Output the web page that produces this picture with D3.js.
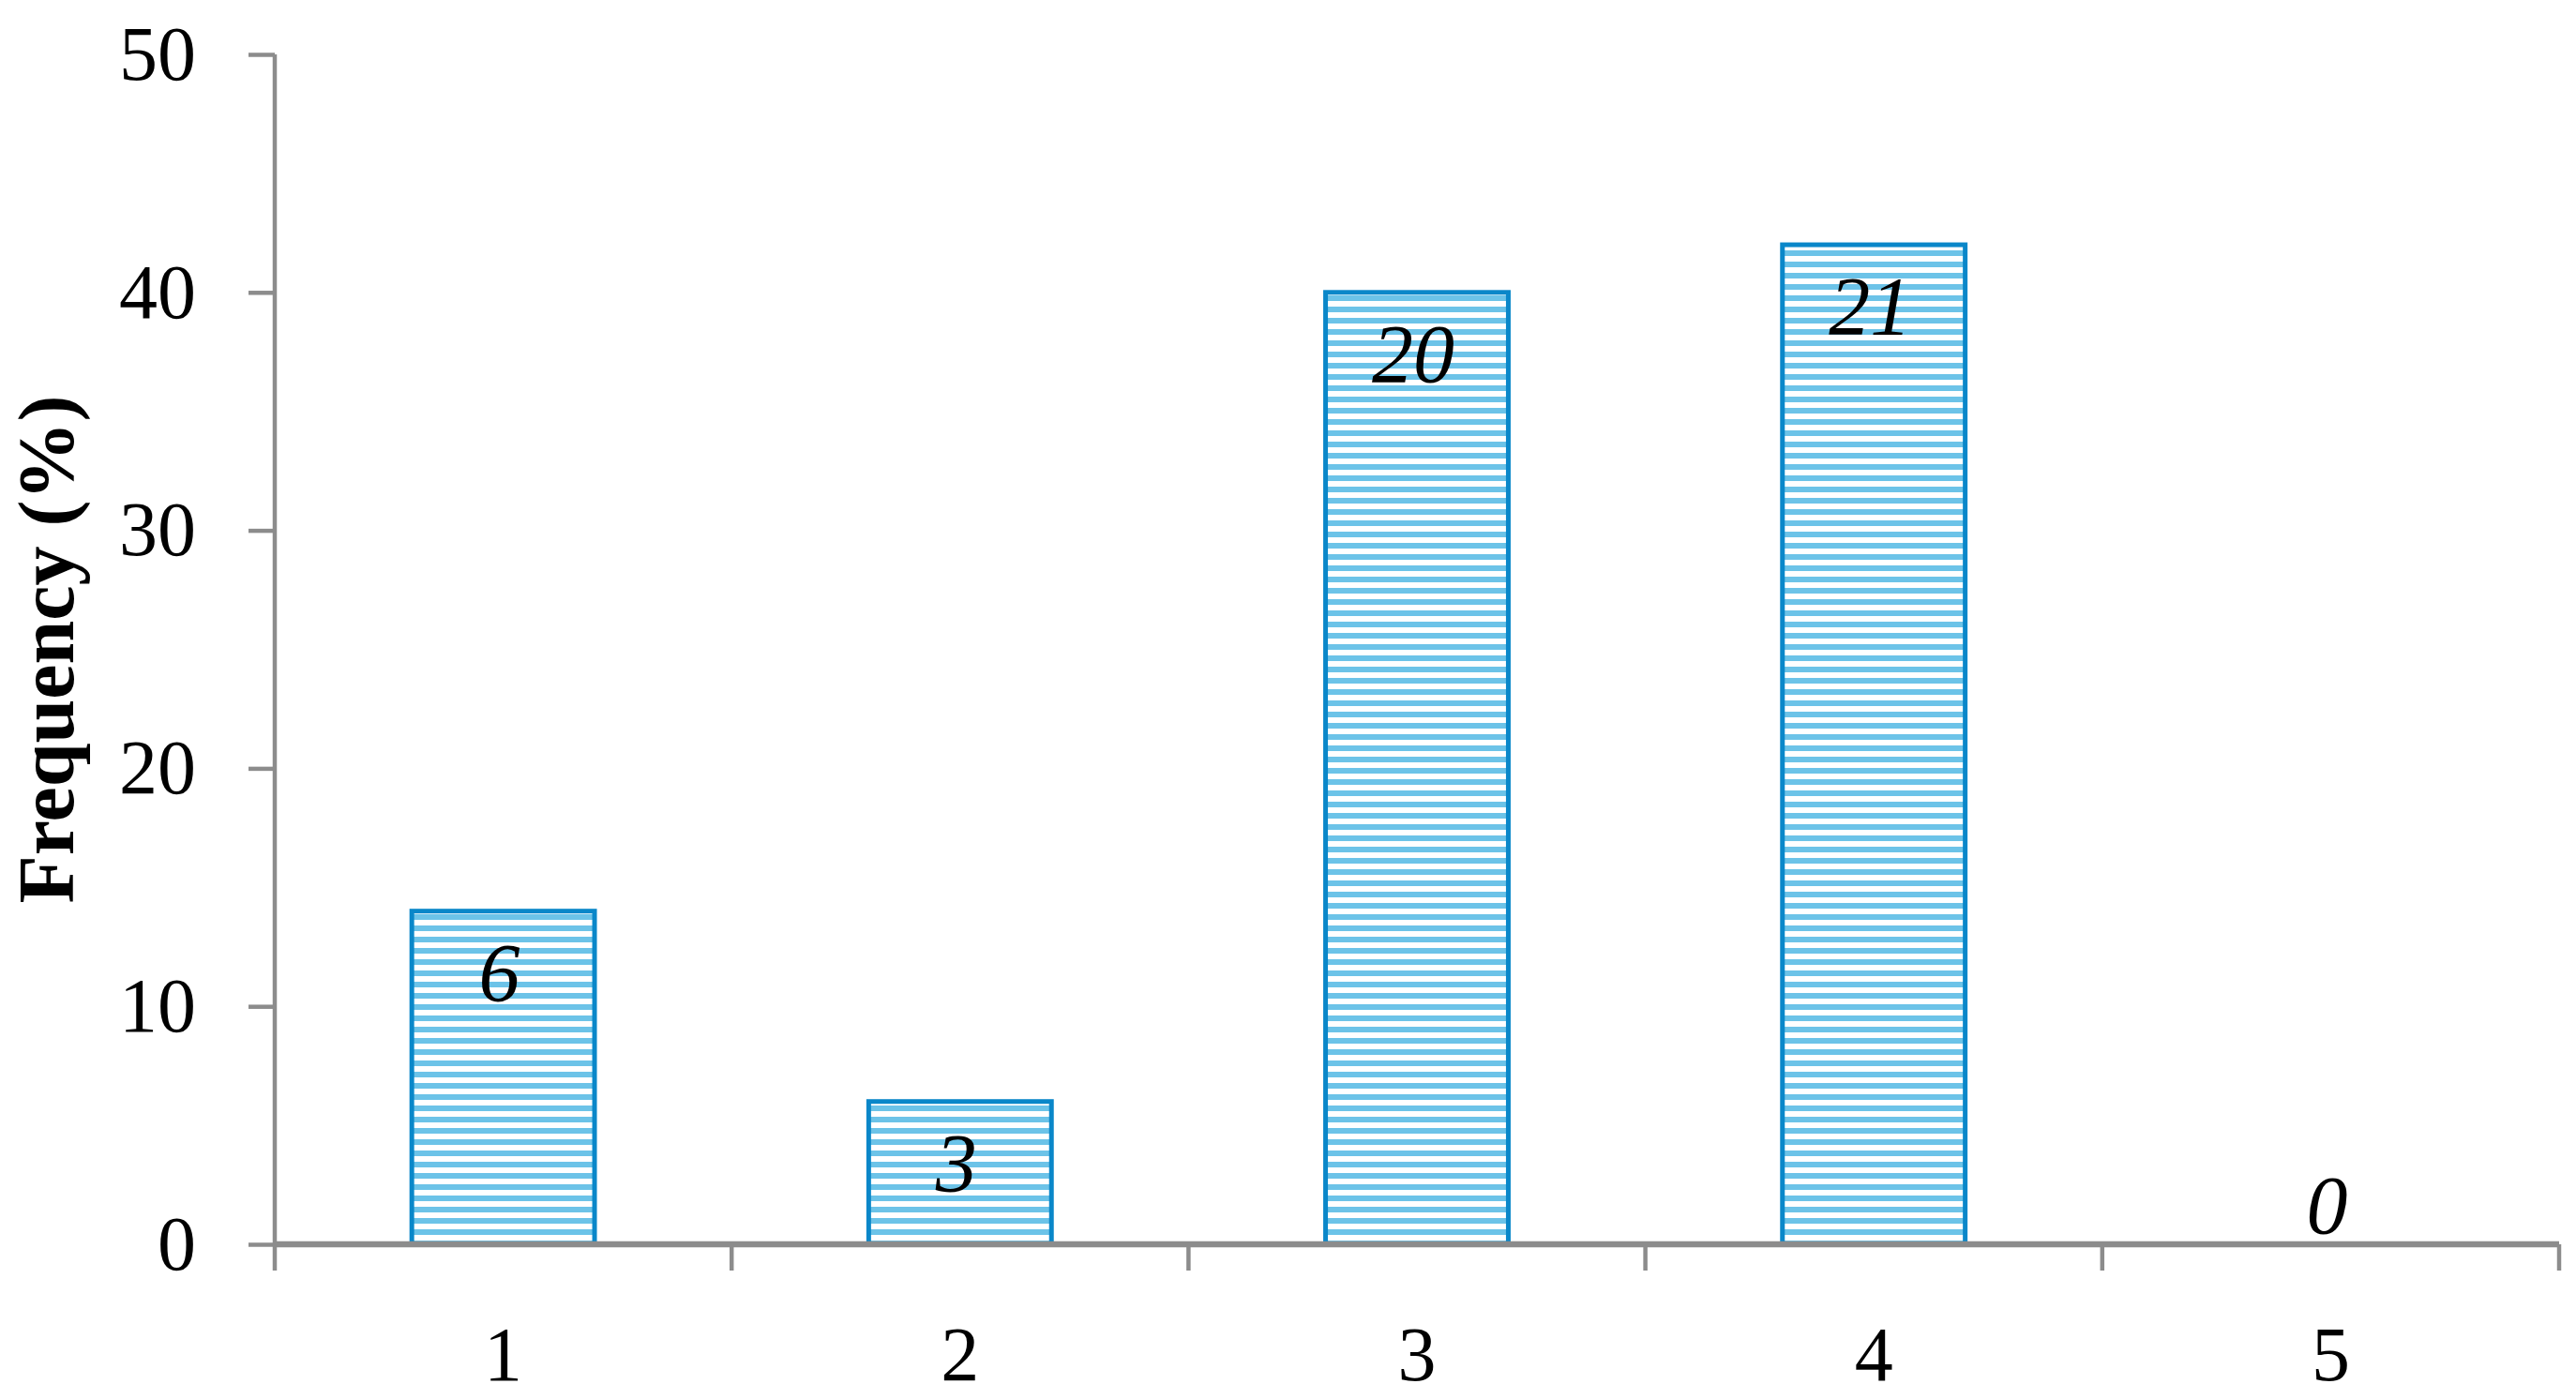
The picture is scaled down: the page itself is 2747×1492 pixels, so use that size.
<!DOCTYPE html>
<html>
<head>
<meta charset="utf-8">
<script src="https://cdn.jsdelivr.net/npm/d3@7"></script>
<style>
  html, body { margin: 0; padding: 0; background: #fff; }
  svg { display: block; }
</style>
</head>
<body>
<div id="chart"></div>
<script>
// data
const categories = ["1", "2", "3", "4", "5"];
const frequency = [14, 6, 40, 42, 0];   // bar heights, %
const counts = [6, 3, 20, 21, 0];       // numbers printed in the bars
const yTicks = [0, 10, 20, 30, 40, 50];

const width = 2747, height = 1492;
const axisColor = "#8c8c8c";
const barStroke = "#0a87c9";
const stripeColor = "#6cc3e8";
const serif = "'Liberation Serif', 'DejaVu Serif', serif";

const svg = d3.select("#chart")
  .append("svg")
    .attr("width", width)
    .attr("height", height);

// horizontal stripes fill
const pattern = svg.append("defs")
  .append("pattern")
    .attr("id", "stripes")
    .attr("patternUnits", "userSpaceOnUse")
    .attr("width", 12)
    .attr("height", 12);
pattern.append("rect").attr("width", 12).attr("height", 12).attr("fill", "#fff");
pattern.append("rect").attr("y", 3).attr("width", 12).attr("height", 6).attr("fill", stripeColor);

// scales
let x = d3.scaleBand()
  .domain(categories)
  .range([293, 2729])
  .paddingInner(0.6)
  .paddingOuter(0.3);
let y = d3.scaleLinear()
  .domain([0, 50])
  .range([1327, 58]);

const data = categories.map((c, i) => ({ cat: c, value: frequency[i], count: counts[i] }));

// y axis
const yAxis = svg.append("g")
  .attr("transform", "translate(" + x.range()[0] + ",0)")
  .call(d3.axisLeft(y).tickValues(yTicks).tickSize(28).tickPadding(56).tickFormat(d3.format("d")));
yAxis.select(".domain").remove();
yAxis.selectAll(".tick line").attr("stroke", axisColor).attr("stroke-width", 4.5);
yAxis.selectAll(".tick text")
  .attr("fill", "#000")
  .style("font-family", serif)
  .style("font-size", "82px");
yAxis.append("line")
  .attr("y1", y(50))
  .attr("y2", y(0) + 28)
  .attr("stroke", axisColor)
  .attr("stroke-width", 4.5);

// bars
svg.append("g")
  .selectAll("rect")
  .data(data.filter(d => d.value > 0))
  .enter()
  .append("rect")
    .attr("x", d => x(d.cat))
    .attr("y", d => y(d.value))
    .attr("width", x.bandwidth())
    .attr("height", d => y(0) - y(d.value))
    .attr("fill", "url(#stripes)")
    .attr("stroke", barStroke)
    .attr("stroke-width", 5);

// x axis: line, ticks at category boundaries, labels centred
const xAxis = svg.append("g")
  .attr("transform", "translate(0," + y(0) + ")");
const boundaries = categories.map(c => x(c) - x.step() * x.paddingInner() / 2)
  .concat([x.range()[1]]);
xAxis.selectAll("line.bound")
  .data(boundaries.slice(1))
  .enter()
  .append("line")
    .attr("class", "bound")
    .attr("x1", d => d)
    .attr("x2", d => d)
    .attr("y1", 0)
    .attr("y2", 28)
    .attr("stroke", axisColor)
    .attr("stroke-width", 4.5);
xAxis.append("line")
  .attr("x1", x.range()[0])
  .attr("x2", x.range()[1])
  .attr("stroke", axisColor)
  .attr("stroke-width", 6.5);
xAxis.selectAll("text")
  .data(categories)
  .enter()
  .append("text")
    .attr("x", d => x(d) + x.bandwidth() / 2)
    .attr("y", 145)
    .attr("text-anchor", "middle")
    .style("font-family", serif)
    .style("font-size", "82px")
    .text(d => d);

// counts inside the bars
svg.append("g")
  .selectAll("text")
  .data(data)
  .enter()
  .append("text")
    .attr("x", d => x(d.cat) + x.bandwidth() / 2 - 4)
    .attr("y", d => Math.min(y(d.value) + 95, y(0) - 12))
    .attr("text-anchor", "middle")
    .style("font-family", serif)
    .style("font-style", "italic")
    .style("font-size", "88px")
    .text(d => d.count);

// y axis title
svg.append("text")
  .attr("transform", "translate(78," + (y(0) + y(50)) / 2 + ") rotate(-90)")
  .attr("text-anchor", "middle")
  .style("font-family", serif)
  .style("font-weight", "bold")
  .style("font-size", "84px")
  .text("Frequency (%)");
</script>
</body>
</html>
